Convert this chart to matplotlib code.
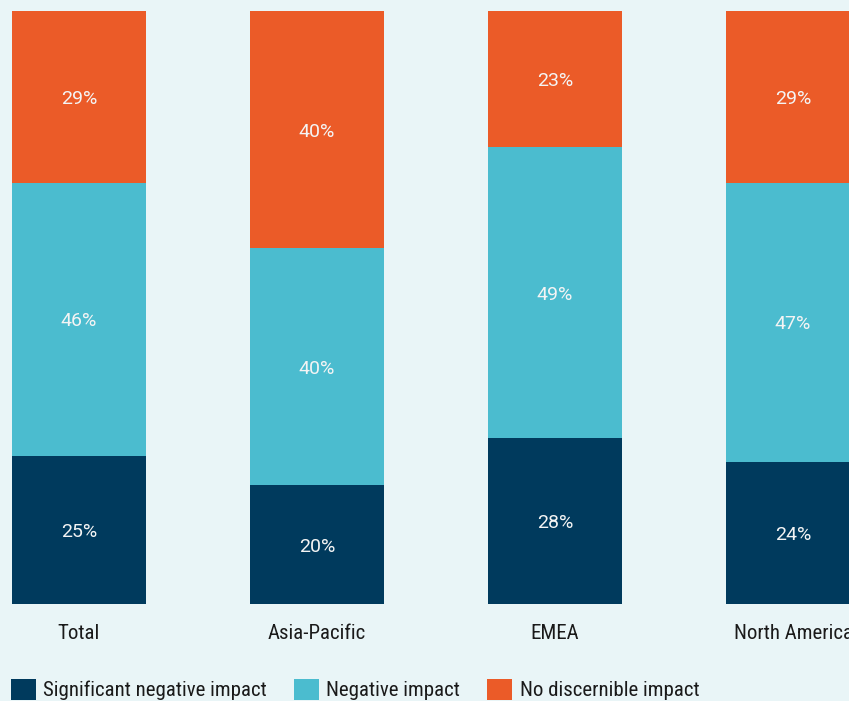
import numpy as np
import matplotlib.pyplot as plt
from matplotlib.patches import Patch

# survey shares per region (%)
regions = ['Total', 'Asia-Pacific', 'EMEA', 'North America']
significant = [25, 20, 28, 24]
negative = [46, 40, 49, 47]
no_impact = [29, 40, 23, 29]
series_names = ['Significant negative impact', 'Negative impact', 'No discernible impact']

bg = '#e9f5f7'
colors = ['#003a5d', '#4bbccf', '#eb5b28']
label_font = 'Roboto Condensed'
text_col = '#1a1a1a'

fig = plt.figure(figsize=(8.49, 7.01), dpi=100, facecolor=bg)
ax = fig.add_axes([0, 1 - 604 / 701, 1, 593 / 701])
ax.set_facecolor(bg)

x_pos = np.arange(len(regions))
bar_width = 0.563
bottom = np.zeros(len(regions))
for vals, col in zip([significant, negative, no_impact], colors):
    vals = np.array(vals)
    ax.bar(x_pos, vals, width=bar_width, bottom=bottom, color=col, linewidth=0)
    for x, b, v in zip(x_pos, bottom, vals):
        ax.text(x, b + v / 2, f'{v}%', ha='center', va='center_baseline',
                color='#f4f4f4', fontsize=14, family='Roboto')
    bottom += vals

ax.set_xlim(-79 / 238, 770 / 238)
ax.set_ylim(0, 100)
ax.axis('off')

# category labels under the bars
for x, name in zip(x_pos, regions):
    ax.text(x, -5.9, name, ha='center', va='baseline', fontsize=15,
            family=label_font, color=text_col)

handles = [Patch(facecolor=c, edgecolor='none') for c in colors]
leg = fig.legend(handles, series_names, loc='lower left', ncol=3,
                 bbox_to_anchor=(11 / 849, 0.5 / 701), frameon=False,
                 prop={'family': label_font, 'size': 15},
                 handlelength=1.2, handleheight=1.2, handletextpad=0.35,
                 columnspacing=1.3, borderaxespad=0, borderpad=0)
for t in leg.get_texts():
    t.set_color(text_col)

fig.savefig('out.png', dpi=100, facecolor=bg)
